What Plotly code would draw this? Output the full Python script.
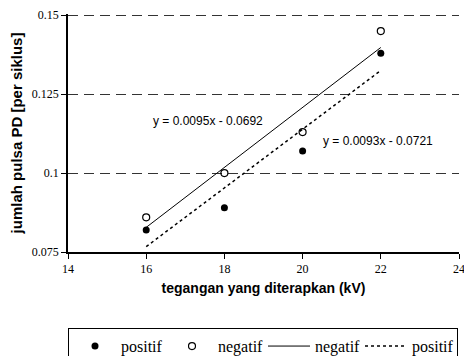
import plotly.graph_objects as go

voltage = [16, 18, 20, 22]
positif = [0.082, 0.089, 0.107, 0.138]
negatif = [0.086, 0.100, 0.113, 0.145]
fit_neg = (0.0095, -0.0692)
fit_pos = (0.0093, -0.0721)
x_ticks = [14, 16, 18, 20, 22, 24]
y_ticks = [0.075, 0.1, 0.125, 0.15]
y_tick_text = ["0.075", "0.1", "0.125", "0.15"]

fit_x = [voltage[0], voltage[-1]]
neg_line = [fit_neg[0] * x + fit_neg[1] for x in fit_x]
pos_line = [fit_pos[0] * x + fit_pos[1] for x in fit_x]

serif = "Liberation Serif, Times New Roman, serif"
sans = "Liberation Sans, Arial, sans-serif"

fig = go.Figure()
fig.add_trace(go.Scatter(x=voltage, y=positif, mode="markers", name="positif",
                         marker=dict(symbol="circle", size=7, color="black")))
fig.add_trace(go.Scatter(x=voltage, y=negatif, mode="markers", name="negatif",
                         marker=dict(symbol="circle-open", size=7, color="black",
                                     line=dict(width=1.2, color="black"))))
fig.add_trace(go.Scatter(x=fit_x, y=neg_line, mode="lines", name="negatif",
                         line=dict(color="black", width=1)))
fig.add_trace(go.Scatter(x=fit_x, y=pos_line, mode="lines", name="positif",
                         line=dict(color="black", width=1.5, dash="dot")))

fig.add_annotation(x=17.57, y=0.1166, text="y = 0.0095x - 0.0692", showarrow=False,
                   font=dict(family=sans, size=12, color="black"))
fig.add_annotation(x=21.92, y=0.1103, text="y = 0.0093x - 0.0721", showarrow=False,
                   font=dict(family=sans, size=12, color="black"))

fig.update_layout(
    width=464, height=356,
    margin=dict(l=68, r=5, t=14, b=104, autoexpand=False),
    paper_bgcolor="white", plot_bgcolor="white",
    showlegend=True,
    legend=dict(orientation="h", x=0, xanchor="left", y=-0.32, yanchor="top",
                bordercolor="black", borderwidth=1,
                font=dict(family=serif, size=16, color="black"),
                entrywidth=40, itemwidth=42, tracegroupgap=0),
    xaxis=dict(range=[14, 24], tickvals=x_ticks, ticktext=[str(v) for v in x_ticks],
               showgrid=False, showline=True, linecolor="black", linewidth=1.5,
               ticks="outside", ticklen=5, tickcolor="black", zeroline=False,
               ticklabeloverflow="allow",
               tickfont=dict(family=serif, size=12, color="black"),
               title=dict(text="<b>tegangan yang diterapkan (kV)</b>", standoff=8,
                          font=dict(family=sans, size=14, color="black"))),
    yaxis=dict(range=[0.075, 0.1504], tickvals=y_ticks, ticktext=y_tick_text,
               showgrid=True, gridcolor="#333333", gridwidth=1, griddash="10px,6px",
               showline=True, linecolor="black", linewidth=1.5,
               ticks="outside", ticklen=5, tickcolor="black", zeroline=False,
               tickfont=dict(family=serif, size=12, color="black"),
               title=dict(text="<b>jumlah pulsa PD [per siklus]</b>", standoff=6,
                          font=dict(family=sans, size=15, color="black"))),
)

fig.write_html("out.html", config={"displayModeBar": False},
               post_script="document.body.style.margin='0';")
